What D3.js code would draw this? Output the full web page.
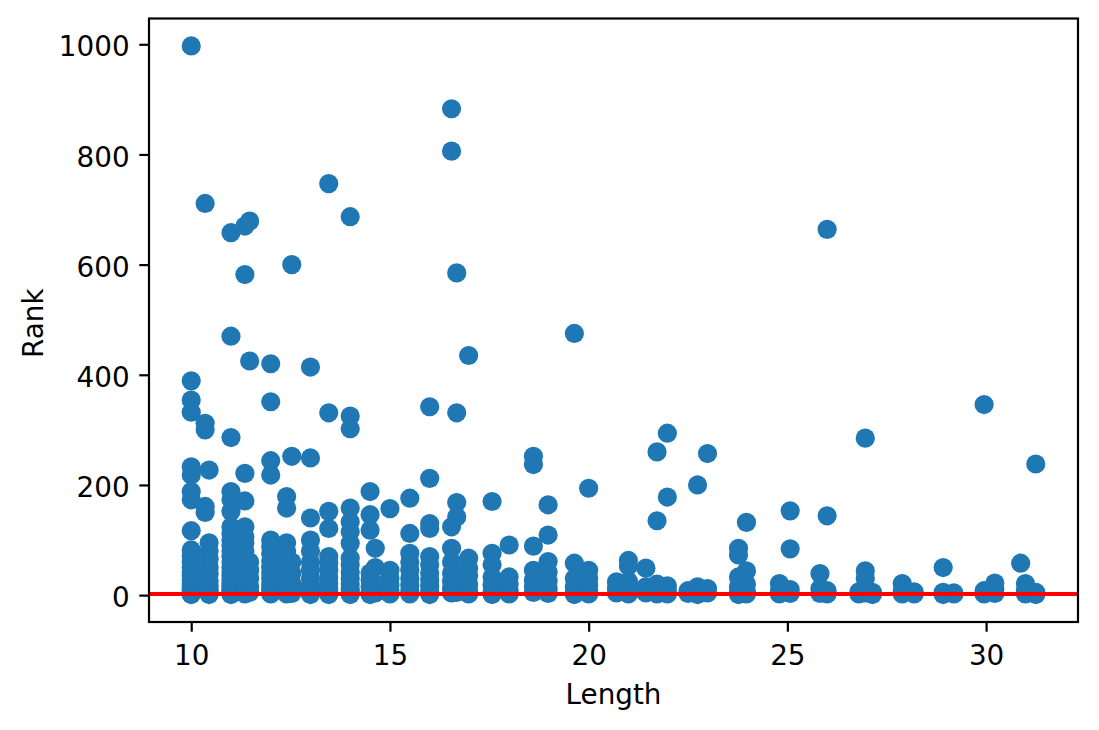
<!DOCTYPE html>
<html>
<head>
<meta charset="utf-8">
<script src="https://cdn.jsdelivr.net/npm/d3@7"></script>
<style>
  body { margin: 0; background: #fff; }
  text { font-family: 'DejaVu Sans', sans-serif; }
</style>
</head>
<body>
<div id="chart"></div>
<script>
// word length groups (x) and the ranks found at each length (y)
const lengthValues = [
  10, 10.35, 10.45, 11, 11.35, 11.47, 12, 12.4, 12.53, 13,
  13.46, 14, 14.5, 14.63, 15, 15.5, 16, 16.55, 16.68, 16.98,
  17.57, 18, 18.61, 18.98, 19.64, 20, 20.7, 21, 21.44, 21.72,
  21.98, 22.5, 22.74, 22.99, 23.77, 23.97, 24.8, 25.07, 25.82, 26,
  26.8, 26.96, 27.14, 27.89, 28.19, 28.92, 29.19, 29.95, 30.22, 30.87,
  30.99, 31.25,
];

const rankValues = [
  [997, 389, 354, 332, 233, 218, 188, 173, 117, 82, 70, 60, 50, 42, 35, 28, 22, 17, 12, 8, 5, 3, 2, 1],
  [711, 312, 300, 161, 150],
  [227, 95, 80, 65, 50, 38, 26, 16, 9, 4, 1],
  [658, 470, 286, 188, 173, 152, 124, 112, 100, 90, 80, 70, 60, 50, 42, 35, 28, 22, 16, 11, 7, 4, 2, 1],
  [670, 582, 221, 171, 124, 106, 95, 80, 65, 52, 40, 30, 20, 12, 6, 2],
  [679, 425, 60, 45, 30, 15, 5],
  [420, 351, 244, 218, 100, 88, 75, 62, 50, 40, 30, 20, 12, 6, 2],
  [179, 158, 95, 80, 65, 50, 38, 26, 15, 7, 2],
  [600, 252, 60, 40, 22, 10, 3],
  [414, 249, 140, 100, 80, 60, 45, 30, 18, 9, 3, 1],
  [747, 331, 152, 121, 70, 58, 45, 33, 22, 12, 5, 1],
  [687, 325, 302, 158, 133, 115, 94, 67, 55, 42, 30, 20, 11, 5, 1],
  [188, 146, 118, 40, 28, 15, 6, 1],
  [85, 50, 20, 4],
  [157, 45, 30, 18, 8, 2],
  [176, 112, 76, 60, 45, 30, 18, 8, 2],
  [342, 212, 130, 121, 70, 55, 40, 28, 16, 6, 1],
  [883, 806, 124, 85, 60, 40, 25, 12, 4],
  [585, 331, 168, 142, 30, 15, 5],
  [435, 67, 49, 35, 20, 8, 2],
  [170, 76, 55, 33, 18, 6, 1],
  [91, 33, 20, 8, 2],
  [252, 237, 89, 45, 27, 15, 5],
  [164, 109, 61, 42, 25, 12, 3],
  [475, 58, 30, 15, 5, 1],
  [194, 45, 30, 18, 8, 2],
  [24, 12, 4],
  [63, 53, 25, 10, 2],
  [49, 15, 4],
  [260, 135, 20, 8, 2],
  [294, 178, 17, 8, 2],
  [8, 3],
  [200, 15, 5, 1],
  [257, 12, 4],
  [85, 73, 33, 15, 5, 1],
  [132, 44, 20, 6, 2],
  [21, 8, 2],
  [153, 84, 10, 3],
  [39, 12, 3],
  [664, 144, 8, 2],
  [6, 2],
  [285, 44, 30, 12, 4],
  [5, 1],
  [21, 8, 2],
  [6, 2],
  [50, 5, 1],
  [4, 2],
  [346, 8, 2],
  [22, 10, 3],
  [58],
  [21, 8, 2],
  [238, 5, 1],
];

const xTicks = [10, 15, 20, 25, 30];
const yTicks = [0, 200, 400, 600, 800, 1000];
const cutoffRank = 2;

class ScatterChart {
  constructor(_config, _data) {
    this.config = {
      parentElement: _config.parentElement,
      containerWidth: 1099,
      containerHeight: 730,
      margin: { top: 18.5, right: 21, bottom: 108, left: 149 },
    };
    this.data = _data;
    this.initVis();
  }

  initVis() {
    const vis = this;
    vis.width = vis.config.containerWidth - vis.config.margin.left - vis.config.margin.right;
    vis.height = vis.config.containerHeight - vis.config.margin.top - vis.config.margin.bottom;

    vis.svg = d3.select(vis.config.parentElement)
      .append('svg')
      .attr('width', vis.config.containerWidth)
      .attr('height', vis.config.containerHeight);

    vis.chart = vis.svg.append('g')
      .attr('transform', `translate(${vis.config.margin.left},${vis.config.margin.top})`);

    // matplotlib style 5% padding around the data
    const pad = (ext) => {
      const m = (ext[1] - ext[0]) * 0.05;
      return [ext[0] - m, ext[1] + m];
    };

    vis.xScale = d3.scaleLinear()
      .domain(pad(d3.extent(vis.data, (d) => d.length)))
      .range([0, vis.width]);
    vis.yScale = d3.scaleLinear()
      .domain(pad(d3.extent(vis.data, (d) => d.rank)))
      .range([vis.height, 0]);

    vis.renderVis();
  }

  renderVis() {
    const vis = this;
    const fontSize = 27.8;

    vis.chart.selectAll('.dot')
      .data(vis.data)
      .join('circle')
      .attr('class', 'dot')
      .attr('cx', (d) => vis.xScale(d.length))
      .attr('cy', (d) => vis.yScale(d.rank))
      .attr('r', 9.6)
      .attr('fill', '#1f77b4');

    vis.chart.append('line')
      .attr('x1', 0)
      .attr('x2', vis.width)
      .attr('y1', vis.yScale(cutoffRank))
      .attr('y2', vis.yScale(cutoffRank))
      .attr('stroke', 'red')
      .attr('stroke-width', 4.2);

    const xAxis = d3.axisBottom(vis.xScale)
      .tickValues(xTicks)
      .tickFormat(d3.format('d'))
      .tickSize(9.7)
      .tickPadding(9.7)
      .tickSizeOuter(0);
    const yAxis = d3.axisLeft(vis.yScale)
      .tickValues(yTicks)
      .tickFormat(d3.format('d'))
      .tickSize(9.7)
      .tickPadding(9.7)
      .tickSizeOuter(0);

    const gx = vis.chart.append('g')
      .attr('transform', `translate(0,${vis.height})`)
      .call(xAxis);
    gx.selectAll('text').attr('dy', null).attr('y', 43.3);

    const gy = vis.chart.append('g').call(yAxis);
    gy.selectAll('text').attr('dy', null).attr('transform', 'translate(0,11.6)');

    [gx, gy].forEach((g) => {
      g.select('.domain').remove();
      g.selectAll('line').attr('stroke', '#000').attr('stroke-width', 2.2);
      g.selectAll('text')
        .attr('fill', '#000')
        .style('font-size', `${fontSize}px`)
        .style('font-family', "'DejaVu Sans', sans-serif");
    });

    // frame
    vis.chart.append('rect')
      .attr('width', vis.width)
      .attr('height', vis.height)
      .attr('fill', 'none')
      .attr('stroke', '#000')
      .attr('stroke-width', 2.2);

    vis.svg.append('text')
      .attr('x', vis.config.margin.left + vis.width / 2)
      .attr('y', 703.5)
      .attr('text-anchor', 'middle')
      .style('font-size', `${fontSize}px`)
      .text('Length');

    vis.svg.append('text')
      .attr('transform', `translate(43.3,${vis.config.margin.top + vis.height / 2 + 3}) rotate(-90)`)
      .attr('text-anchor', 'middle')
      .style('font-size', `${fontSize}px`)
      .text('Rank');
  }
}

const points = [];
lengthValues.forEach((len, i) => {
  rankValues[i].forEach((r) => points.push({ length: len, rank: r }));
});

new ScatterChart({ parentElement: '#chart' }, points);
</script>
</body>
</html>
